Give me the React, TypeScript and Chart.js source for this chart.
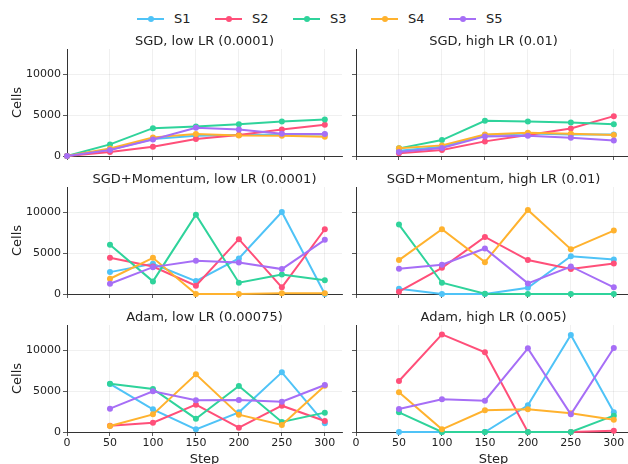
import React, { useEffect, useRef } from 'react';
import { Chart, registerables } from 'chart.js';

Chart.register(...registerables);

const FONT = "'DejaVu Sans', sans-serif";

const seriesNames = ['S1', 'S2', 'S3', 'S4', 'S5'];
const seriesColors = ['#4FC3F7', '#FF4F79', '#2FD39B', '#FFB22E', '#A66EF6'];

const panelTitles = [
  'SGD, low LR (0.0001)',
  'SGD, high LR (0.01)',
  'SGD+Momentum, low LR (0.0001)',
  'SGD+Momentum, high LR (0.01)',
  'Adam, low LR (0.00075)',
  'Adam, high LR (0.005)',
];

const stepsWithZero = [0, 50, 100, 150, 200, 250, 300];
const steps = [50, 100, 150, 200, 250, 300];
const xTicks = [0, 50, 100, 150, 200, 250, 300];
const yTicks = [0, 5000, 10000];
const xMax = 320;
const yMax = 13100;

// rows: S1..S5
const sgdLow = [
  [0, 760, 2080, 2480, 2560, 2640, 2640],
  [0, 490, 1140, 2070, 2560, 3250, 3820],
  [0, 1420, 3410, 3620, 3900, 4230, 4470],
  [0, 930, 2280, 2680, 2520, 2480, 2360],
  [0, 730, 2030, 3460, 3250, 2720, 2680],
];
const sgdHigh = [
  [650, 1140, 2560, 2760, 2640, 2640],
  [325, 730, 1790, 2560, 3370, 4880],
  [935, 1950, 4310, 4230, 4100, 3900],
  [935, 1300, 2640, 2850, 2720, 2560],
  [490, 975, 2400, 2480, 2240, 1910],
];
const momLow = [
  [2680, 3700, 1585, 4350, 10040, 0],
  [4430, 3370, 1015, 6710, 815, 7930],
  [6020, 1545, 9715, 1380, 2400, 1670],
  [1870, 4430, 0, 0, 100, 100],
  [1260, 3290, 4065, 3860, 3050, 6630],
];
const momHigh = [
  [650, 0, 0, 770, 4630, 4230],
  [285, 3210, 6990, 4150, 3050, 3740],
  [8500, 1380, 40, 0, 0, 0],
  [4150, 7930, 3900, 10285, 5490, 7760],
  [3090, 3580, 5570, 1300, 3370, 815],
];
const adamLow = [
  [5880, 2775, 325, 2410, 7300, 1060],
  [775, 1140, 3350, 530, 3220, 1350],
  [5920, 5260, 1630, 5630, 1220, 2370],
  [735, 2160, 7060, 2120, 860, 5670],
  [2860, 4980, 3880, 3920, 3710, 5750],
];
const adamHigh = [
  [0, 0, 0, 3260, 11870, 2410],
  [6240, 11950, 9750, 0, 0, 160],
  [2410, 0, 0, 0, 0, 2000],
  [4860, 325, 2650, 2775, 2285, 1510],
  [2815, 4000, 3835, 10240, 2160, 10280],
];

const panelValues = [sgdLow, sgdHigh, momLow, momHigh, adamLow, adamHigh];
const panelSteps = [stepsWithZero, steps, steps, steps, steps, steps];

// layout (pixels)
const PLOT_W = 275;
const PLOT_H = 107;
const colLeft = [67, 356];
const rowTop = [49, 187, 325];
const AX_W = 60;
const TITLE_H = 20;
const X_H = 40;
const PAD_R = 6;

function buildConfig(p: number): any {
  const row = Math.floor(p / 2);
  const col = p % 2;
  const st = panelSteps[p];
  const vals = panelValues[p];
  const bottomRow = row === 2;
  const leftCol = col === 0;
  const datasets = seriesNames.map((name, i) => ({
    label: name,
    data: st.map((s, j) => ({ x: s, y: vals[i][j] })),
    borderColor: seriesColors[i],
    backgroundColor: seriesColors[i],
    borderWidth: 2,
    pointRadius: 3,
    pointHoverRadius: 3,
    pointBorderWidth: 0,
    tension: 0,
    clip: false,
    order: 4 - i,
  }));
  const gridCommon = {
    color: 'rgba(0,0,0,0.08)',
    lineWidth: 0.8,
    tickColor: '#333',
    tickLength: 4,
    drawTicks: true,
  };
  return {
    type: 'line',
    data: { datasets },
    options: {
      responsive: false,
      animation: false,
      events: [],
      layout: { padding: { left: 0, right: PAD_R, top: 0, bottom: 0 } },
      plugins: {
        legend: { display: false },
        tooltip: { enabled: false },
        title: {
          display: true,
          text: panelTitles[p],
          fullSize: false,
          color: '#222',
          font: { family: FONT, size: 13, weight: 'normal', lineHeight: 1 },
          padding: { top: 5.7, bottom: 1.3 },
        },
      },
      scales: {
        x: {
          type: 'linear',
          min: 0,
          max: xMax,
          afterBuildTicks: (s: any) => {
            s.ticks = xTicks.map((v) => ({ value: v }));
          },
          afterFit: (s: any) => {
            s.height = X_H;
          },
          grid: gridCommon,
          border: { display: true, color: '#333', width: 1 },
          ticks: {
            autoSkip: false,
            maxRotation: 0,
            padding: 1,
            color: '#222',
            font: { family: FONT, size: 11 },
            callback: (v: any) => (bottomRow ? String(v) : ''),
          },
          title: {
            display: bottomRow,
            text: 'Step',
            color: '#222',
            font: { family: FONT, size: 13 },
            padding: { top: 0, bottom: 5 },
          },
        },
        y: {
          type: 'linear',
          min: 0,
          max: yMax,
          afterBuildTicks: (s: any) => {
            s.ticks = yTicks.map((v) => ({ value: v }));
          },
          afterFit: (s: any) => {
            s.width = AX_W;
          },
          grid: gridCommon,
          border: { display: true, color: '#333', width: 1 },
          ticks: {
            autoSkip: false,
            padding: 2,
            color: '#222',
            font: { family: FONT, size: 11 },
            callback: (v: any) => (leftCol ? String(v) : ''),
          },
          title: {
            display: leftCol,
            text: 'Cells',
            color: '#222',
            font: { family: FONT, size: 13 },
            padding: { top: 3, bottom: 0 },
          },
        },
      },
    },
  };
}

function Panel({ p }: { p: number }) {
  const ref = useRef<HTMLCanvasElement | null>(null);
  const row = Math.floor(p / 2);
  const col = p % 2;
  const left = colLeft[col] - AX_W;
  const top = rowTop[row] - TITLE_H;
  const width = AX_W + PLOT_W + PAD_R;
  const height = TITLE_H + PLOT_H + X_H;
  useEffect(() => {
    if (!ref.current) return;
    const chart = new Chart(ref.current, buildConfig(p));
    return () => chart.destroy();
  }, [p]);
  return (
    <canvas
      ref={ref}
      width={width}
      height={height}
      style={{ position: 'absolute', left, top, width, height }}
    />
  );
}

function Legend() {
  return (
    <>
      {seriesNames.map((name, i) => {
        const x = 137 + 78 * i;
        return (
          <React.Fragment key={name}>
            <div
              style={{
                position: 'absolute',
                left: x,
                top: 17.5,
                width: 27,
                height: 2,
                background: seriesColors[i],
              }}
            />
            <div
              style={{
                position: 'absolute',
                left: x + 10.5,
                top: 15.5,
                width: 6,
                height: 6,
                borderRadius: 3,
                background: seriesColors[i],
              }}
            />
            <div
              style={{
                position: 'absolute',
                left: x + 37,
                top: 10,
                height: 17,
                lineHeight: '17px',
                fontFamily: FONT,
                fontSize: 13,
                color: '#222',
                whiteSpace: 'nowrap',
              }}
            >
              {name}
            </div>
          </React.Fragment>
        );
      })}
    </>
  );
}

export default function App() {
  return (
    <div
      style={{
        position: 'fixed',
        left: 0,
        top: 0,
        width: 628,
        height: 464,
        overflow: 'hidden',
        background: '#fff',
      }}
    >
      <Legend />
      {[0, 1, 2, 3, 4, 5].map((p) => (
        <Panel key={p} p={p} />
      ))}
    </div>
  );
}
